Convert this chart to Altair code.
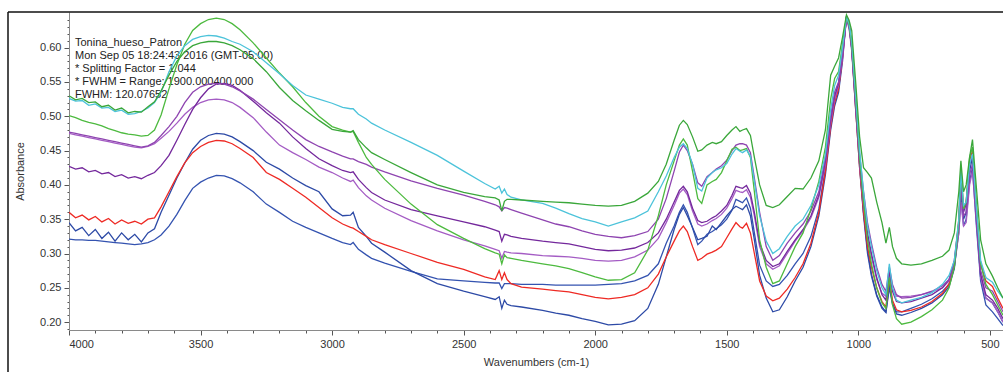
import altair as alt
import pandas as pd

# ---------------- data ----------------
W_R1 = [4000, 3975, 3950, 3925, 3900, 3875, 3850, 3825, 3800, 3775, 3750, 3725, 3700, 3675, 3650]
W_R2 = [3620, 3590, 3560, 3530, 3500, 3470, 3440, 3410, 3380, 3350, 3300, 3250, 3200, 3150]
W_R3 = [3100, 3050, 3000, 2960, 2930, 2920, 2900, 2870, 2850, 2800,
        2700, 2600, 2500, 2420, 2380, 2365, 2355, 2345, 2335, 2320,
        2280, 2200, 2150, 2100, 2050, 2000]
W_R4 = [1950, 1900, 1850, 1800, 1760, 1730, 1700, 1680, 1665, 1650,
        1630, 1610, 1595, 1575, 1555, 1540, 1520, 1500, 1480, 1465,
        1450, 1440, 1425, 1410, 1395, 1375, 1350, 1325, 1300, 1270]
W_R5 = [1240, 1210, 1180, 1150, 1125, 1105, 1090, 1075, 1060, 1045,
        1035, 1025, 1010, 995, 980, 965, 950, 930, 910, 895,
        882, 870, 855, 835, 800, 760, 720, 680, 655, 635,
        618, 610, 600, 590, 577, 566, 552, 535, 515, 490,
        470, 450]
WAVENUMBERS = W_R1 + W_R2 + W_R3 + W_R4 + W_R5

GREEN_1 = ([0.530, 0.524, 0.526, 0.520, 0.521, 0.514, 0.516, 0.509, 0.512, 0.505, 0.507, 0.506, 0.514, 0.521, 0.537]
           + [0.560, 0.580, 0.594, 0.603, 0.607, 0.609, 0.609, 0.607, 0.603, 0.597, 0.584, 0.565, 0.542, 0.523]
           + [0.508, 0.494, 0.481, 0.478, 0.477, 0.479, 0.466, 0.454, 0.447, 0.437,
              0.418, 0.400, 0.389, 0.383, 0.381, 0.378, 0.362, 0.376, 0.379, 0.379,
              0.378, 0.376, 0.375, 0.374, 0.372, 0.370]
           + [0.369, 0.370, 0.376, 0.388, 0.405, 0.430, 0.465, 0.487, 0.494, 0.488,
              0.470, 0.449, 0.451, 0.458, 0.462, 0.460, 0.463, 0.472, 0.480, 0.485,
              0.478, 0.480, 0.482, 0.472, 0.440, 0.400, 0.370, 0.367, 0.371, 0.383]
           + [0.395, 0.394, 0.410, 0.435, 0.480, 0.560, 0.573, 0.585, 0.615, 0.648,
              0.640, 0.625, 0.550, 0.470, 0.425, 0.418, 0.410, 0.375, 0.345, 0.315,
              0.338, 0.310, 0.293, 0.285, 0.283, 0.285, 0.290, 0.296, 0.305, 0.330,
              0.390, 0.435, 0.390, 0.400, 0.440, 0.466, 0.400, 0.320, 0.285, 0.267,
              0.250, 0.235])

CYAN = ([0.526, 0.522, 0.523, 0.516, 0.518, 0.512, 0.513, 0.507, 0.509, 0.503, 0.504, 0.507, 0.512, 0.520, 0.535]
        + [0.565, 0.588, 0.603, 0.612, 0.616, 0.618, 0.617, 0.614, 0.609, 0.605, 0.594, 0.578, 0.562, 0.545]
        + [0.531, 0.525, 0.519, 0.513, 0.511, 0.511, 0.503, 0.496, 0.490, 0.480,
           0.462, 0.443, 0.420, 0.402, 0.394, 0.398, 0.388, 0.394, 0.386, 0.382,
           0.378, 0.373, 0.366, 0.358, 0.351, 0.346]
        + [0.340, 0.346, 0.352, 0.362, 0.390, 0.413, 0.440, 0.455, 0.460, 0.453,
           0.430, 0.395, 0.391, 0.410, 0.418, 0.422, 0.425, 0.431, 0.445, 0.453,
           0.449, 0.447, 0.451, 0.442, 0.405, 0.355, 0.318, 0.300, 0.307, 0.325]
        + [0.340, 0.350, 0.370, 0.400, 0.445, 0.510, 0.545, 0.560, 0.600, 0.645,
           0.635, 0.610, 0.530, 0.450, 0.390, 0.340, 0.310, 0.275, 0.250, 0.240,
           0.285, 0.250, 0.232, 0.228, 0.232, 0.236, 0.243, 0.255, 0.268, 0.290,
           0.350, 0.420, 0.370, 0.375, 0.430, 0.445, 0.370, 0.290, 0.265, 0.258,
           0.245, 0.235])

GREEN_2 = ([0.501, 0.498, 0.494, 0.491, 0.489, 0.486, 0.482, 0.479, 0.476, 0.474, 0.473, 0.471, 0.472, 0.480, 0.502]
           + [0.540, 0.575, 0.605, 0.625, 0.635, 0.641, 0.643, 0.641, 0.635, 0.626, 0.607, 0.585, 0.563, 0.543]
           + [0.520, 0.500, 0.485, 0.480, 0.477, 0.478, 0.462, 0.440, 0.430, 0.408,
              0.372, 0.342, 0.322, 0.307, 0.301, 0.299, 0.285, 0.298, 0.294, 0.293,
              0.290, 0.285, 0.282, 0.278, 0.272, 0.266]
           + [0.261, 0.262, 0.272, 0.305, 0.355, 0.400, 0.435, 0.458, 0.467, 0.458,
              0.420, 0.380, 0.373, 0.400, 0.405, 0.408, 0.418, 0.435, 0.452, 0.455,
              0.450, 0.451, 0.453, 0.440, 0.390, 0.320, 0.280, 0.256, 0.260, 0.285]
           + [0.310, 0.330, 0.365, 0.405, 0.455, 0.525, 0.555, 0.565, 0.605, 0.645,
              0.632, 0.605, 0.525, 0.440, 0.375, 0.320, 0.285, 0.250, 0.228, 0.220,
              0.265, 0.225, 0.205, 0.197, 0.200, 0.208, 0.218, 0.232, 0.250, 0.280,
              0.345, 0.425, 0.365, 0.375, 0.440, 0.455, 0.375, 0.285, 0.255, 0.240,
              0.225, 0.210])

PURPLE_1 = ([0.477, 0.475, 0.473, 0.471, 0.469, 0.467, 0.465, 0.463, 0.461, 0.459, 0.457, 0.455, 0.457, 0.462, 0.472]
            + [0.485, 0.500, 0.520, 0.535, 0.543, 0.547, 0.548, 0.547, 0.543, 0.537, 0.525, 0.510, 0.495, 0.480]
            + [0.466, 0.456, 0.448, 0.442, 0.438, 0.438, 0.434, 0.430, 0.426, 0.419,
               0.406, 0.395, 0.385, 0.376, 0.371, 0.368, 0.362, 0.367, 0.366, 0.364,
               0.359, 0.349, 0.343, 0.339, 0.333, 0.328]
            + [0.325, 0.323, 0.326, 0.332, 0.350, 0.380, 0.420, 0.448, 0.458, 0.450,
               0.430, 0.403, 0.398, 0.412, 0.418, 0.423, 0.428, 0.436, 0.450, 0.458,
               0.460, 0.460, 0.458, 0.447, 0.410, 0.360, 0.310, 0.290, 0.297, 0.315]
            + [0.330, 0.343, 0.362, 0.390, 0.440, 0.500, 0.535, 0.550, 0.590, 0.643,
               0.630, 0.600, 0.520, 0.445, 0.390, 0.345, 0.315, 0.280, 0.255, 0.245,
               0.280, 0.255, 0.240, 0.235, 0.236, 0.240, 0.245, 0.253, 0.262, 0.285,
               0.340, 0.400, 0.355, 0.360, 0.415, 0.430, 0.360, 0.275, 0.250, 0.245,
               0.230, 0.215])

PURPLE_DARK = ([0.427, 0.423, 0.425, 0.419, 0.421, 0.416, 0.418, 0.412, 0.415, 0.410, 0.412, 0.409, 0.414, 0.418, 0.428]
               + [0.443, 0.465, 0.488, 0.510, 0.527, 0.540, 0.547, 0.548, 0.545, 0.538, 0.522, 0.505, 0.490, 0.470]
               + [0.453, 0.438, 0.428, 0.421, 0.418, 0.419, 0.408, 0.396, 0.389, 0.378,
                  0.364, 0.355, 0.346, 0.339, 0.334, 0.332, 0.318, 0.328, 0.327, 0.325,
                  0.322, 0.318, 0.316, 0.314, 0.310, 0.306]
               + [0.304, 0.305, 0.308, 0.316, 0.330, 0.350, 0.375, 0.392, 0.398, 0.390,
                  0.366, 0.348, 0.345, 0.347, 0.352, 0.355, 0.362, 0.370, 0.385, 0.398,
                  0.396, 0.395, 0.399, 0.388, 0.360, 0.315, 0.290, 0.281, 0.285, 0.303]
               + [0.320, 0.335, 0.355, 0.385, 0.435, 0.495, 0.530, 0.548, 0.590, 0.644,
                  0.632, 0.600, 0.515, 0.435, 0.375, 0.330, 0.300, 0.265, 0.240, 0.232,
                  0.275, 0.245, 0.230, 0.228, 0.230, 0.235, 0.240, 0.250, 0.262, 0.290,
                  0.345, 0.410, 0.360, 0.372, 0.430, 0.440, 0.360, 0.270, 0.240, 0.232,
                  0.220, 0.205])

PURPLE_2 = ([0.475, 0.473, 0.471, 0.469, 0.467, 0.465, 0.463, 0.461, 0.459, 0.457, 0.455, 0.454, 0.456, 0.460, 0.468]
            + [0.478, 0.490, 0.503, 0.513, 0.520, 0.524, 0.525, 0.524, 0.520, 0.513, 0.498, 0.477, 0.458, 0.447]
            + [0.437, 0.426, 0.418, 0.410, 0.405, 0.407, 0.396, 0.384, 0.378, 0.366,
               0.348, 0.333, 0.320, 0.311, 0.306, 0.304, 0.293, 0.303, 0.302, 0.301,
               0.300, 0.297, 0.296, 0.295, 0.293, 0.290]
            + [0.289, 0.290, 0.295, 0.305, 0.322, 0.345, 0.370, 0.388, 0.394, 0.386,
               0.362, 0.343, 0.340, 0.343, 0.348, 0.351, 0.357, 0.366, 0.380, 0.392,
               0.390, 0.389, 0.393, 0.382, 0.355, 0.310, 0.285, 0.277, 0.282, 0.300]
            + [0.318, 0.333, 0.352, 0.382, 0.430, 0.490, 0.525, 0.545, 0.585, 0.642,
               0.628, 0.595, 0.510, 0.430, 0.370, 0.325, 0.295, 0.262, 0.242, 0.238,
               0.270, 0.248, 0.238, 0.237, 0.238, 0.240, 0.244, 0.250, 0.260, 0.285,
               0.330, 0.375, 0.340, 0.345, 0.400, 0.420, 0.350, 0.265, 0.235, 0.228,
               0.215, 0.200])

RED = ([0.360, 0.352, 0.356, 0.349, 0.354, 0.346, 0.351, 0.343, 0.349, 0.344, 0.347, 0.343, 0.350, 0.352, 0.368]
       + [0.390, 0.412, 0.432, 0.447, 0.456, 0.462, 0.465, 0.464, 0.460, 0.453, 0.440, 0.418, 0.408, 0.395]
       + [0.382, 0.367, 0.352, 0.343, 0.338, 0.337, 0.332, 0.325, 0.320, 0.313,
          0.300, 0.287, 0.277, 0.266, 0.262, 0.275, 0.262, 0.272, 0.262, 0.256,
          0.251, 0.248, 0.246, 0.244, 0.240, 0.236]
       + [0.234, 0.236, 0.240, 0.250, 0.270, 0.295, 0.318, 0.333, 0.340, 0.332,
          0.310, 0.290, 0.293, 0.299, 0.302, 0.305, 0.310, 0.323, 0.336, 0.345,
          0.339, 0.337, 0.344, 0.330, 0.300, 0.260, 0.238, 0.231, 0.235, 0.248]
       + [0.265, 0.285, 0.315, 0.360, 0.420, 0.485, 0.520, 0.540, 0.585, 0.645,
          0.635, 0.600, 0.510, 0.425, 0.360, 0.310, 0.280, 0.250, 0.230, 0.222,
          0.262, 0.232, 0.218, 0.215, 0.217, 0.222, 0.230, 0.242, 0.256, 0.285,
          0.350, 0.420, 0.365, 0.375, 0.435, 0.450, 0.370, 0.285, 0.260, 0.252,
          0.235, 0.220])

BLUE_1 = ([0.345, 0.333, 0.338, 0.326, 0.335, 0.322, 0.331, 0.318, 0.330, 0.320, 0.328, 0.317, 0.330, 0.336, 0.360]
          + [0.385, 0.410, 0.432, 0.452, 0.465, 0.472, 0.475, 0.474, 0.470, 0.463, 0.450, 0.433, 0.423, 0.410]
          + [0.399, 0.390, 0.365, 0.355, 0.356, 0.360, 0.338, 0.325, 0.315, 0.302,
             0.275, 0.256, 0.245, 0.237, 0.233, 0.237, 0.220, 0.232, 0.226, 0.224,
             0.222, 0.217, 0.213, 0.210, 0.205, 0.201]
          + [0.196, 0.197, 0.202, 0.220, 0.255, 0.295, 0.335, 0.357, 0.367, 0.355,
             0.338, 0.320, 0.322, 0.325, 0.340, 0.335, 0.345, 0.355, 0.364, 0.369,
             0.366, 0.364, 0.371, 0.355, 0.320, 0.268, 0.235, 0.215, 0.218, 0.237]
          + [0.260, 0.280, 0.310, 0.355, 0.415, 0.480, 0.515, 0.535, 0.580, 0.646,
             0.636, 0.602, 0.520, 0.430, 0.360, 0.305, 0.270, 0.240, 0.222, 0.215,
             0.255, 0.228, 0.212, 0.210, 0.214, 0.220, 0.228, 0.240, 0.252, 0.278,
             0.340, 0.400, 0.350, 0.360, 0.420, 0.440, 0.355, 0.265, 0.235, 0.228,
             0.215, 0.200])

BLUE_2 = ([0.321, 0.320, 0.320, 0.319, 0.319, 0.318, 0.317, 0.316, 0.315, 0.314, 0.313, 0.314, 0.316, 0.320, 0.327]
          + [0.340, 0.357, 0.377, 0.395, 0.404, 0.410, 0.414, 0.413, 0.409, 0.403, 0.390, 0.372, 0.360, 0.347]
          + [0.338, 0.330, 0.322, 0.316, 0.313, 0.316, 0.306, 0.298, 0.293, 0.286,
             0.274, 0.263, 0.260, 0.258, 0.257, 0.257, 0.249, 0.256, 0.256, 0.256,
             0.255, 0.255, 0.254, 0.254, 0.254, 0.254]
          + [0.255, 0.256, 0.260, 0.268, 0.285, 0.315, 0.340, 0.360, 0.371, 0.360,
             0.337, 0.313, 0.318, 0.328, 0.332, 0.336, 0.342, 0.350, 0.363, 0.379,
             0.376, 0.374, 0.381, 0.366, 0.330, 0.283, 0.260, 0.252, 0.255, 0.268]
          + [0.285, 0.300, 0.325, 0.365, 0.425, 0.490, 0.525, 0.543, 0.587, 0.645,
             0.634, 0.598, 0.512, 0.425, 0.355, 0.300, 0.267, 0.238, 0.220, 0.214,
             0.250, 0.226, 0.215, 0.215, 0.220, 0.226, 0.234, 0.245, 0.255, 0.280,
             0.330, 0.385, 0.340, 0.350, 0.405, 0.425, 0.345, 0.260, 0.225, 0.215,
             0.205, 0.195])

SERIES_NAMES = ["Blue 2", "Blue 1", "Red", "Purple 2", "Purple dark", "Purple 1", "Green 2", "Cyan", "Green 1"]
SERIES_VALUES = [BLUE_2, BLUE_1, RED, PURPLE_2, PURPLE_DARK, PURPLE_1, GREEN_2, CYAN, GREEN_1]
SERIES_COLORS = ["#3453b0", "#2d4aa6", "#ee2a24", "#a45cc4", "#74289c", "#8e44b0", "#4dba3f", "#4cc3da", "#3aa73a"]

ANNOTATION = "\n".join([
    "Tonina_hueso_Patron",
    "Mon Sep 05 18:24:43 2016 (GMT-05:00)",
    "* Splitting Factor = 1.044",
    "* FWHM = Range: 1900.000400.000",
    "FWHM: 120.07652",
])

Y_TICKS = [round(0.19 + 0.01 * i, 2) for i in range(46)]   # 0.19 ... 0.64
X_TICKS = list(range(500, 4001, 100))

# ---------------- build table ----------------
rows = []
for name, vals in zip(SERIES_NAMES, SERIES_VALUES):
    if len(vals) != len(WAVENUMBERS):
        raise ValueError(f"{name}: {len(vals)} values vs {len(WAVENUMBERS)} wavenumbers")
    for w, a in zip(WAVENUMBERS, vals):
        rows.append({"series": name, "w": w, "a": a})
df = pd.DataFrame(rows)

FONT = "Liberation Sans"

x_enc = alt.X(
    "w:Q",
    scale=alt.Scale(domain=[450, 4000], reverse=True, nice=False, zero=False),
    axis=alt.Axis(
        values=X_TICKS,
        labelExpr="datum.value % 500 === 0 ? format(datum.value, 'd') : ''",
        tickSize={"condition": {"test": "datum.value % 500 === 0", "value": 5}, "value": 3},
        title="Wavenumbers (cm-1)",
        grid=False,
        labelPadding=3,
        titlePadding=7,
    ),
)
y_enc = alt.Y(
    "a:Q",
    scale=alt.Scale(domain=[0.1885, 0.652], nice=False, zero=False),
    axis=alt.Axis(
        values=Y_TICKS,
        labelExpr="round(datum.value * 100) % 5 === 0 ? format(datum.value, '.2f') : ''",
        tickSize={"condition": {"test": "round(datum.value * 100) % 5 === 0", "value": 5}, "value": 2},
        title="Absorbance",
        grid=False,
        labelPadding=3,
        titlePadding=14,
    ),
)

lines = alt.Chart(df).mark_line(strokeWidth=1.3, clip=True).encode(
    x=x_enc,
    y=y_enc,
    color=alt.Color("series:N", scale=alt.Scale(domain=SERIES_NAMES, range=SERIES_COLORS), legend=None),
    detail="series:N",
)

text = alt.Chart(pd.DataFrame({"t": [ANNOTATION]})).mark_text(
    align="left", baseline="top", font=FONT, fontSize=11, lineHeight=13, lineBreak="\n", color="#222222"
).encode(x=alt.value(6), y=alt.value(25), text="t:N")

frame_df = pd.DataFrame({"k": [1]})
top_rule = alt.Chart(frame_df).mark_rule(color="#111111", strokeWidth=1.5).encode(
    x=alt.value(-61), x2=alt.value(934), y=alt.value(0)
)
left_rule = alt.Chart(frame_df).mark_rule(color="#111111", strokeWidth=1.5).encode(
    x=alt.value(-61), y=alt.value(0), y2=alt.value(370)
)

chart = alt.layer(text, lines, top_rule, left_rule).properties(
    width=934,
    height=318,
    autosize=alt.AutoSizeParams(type="none"),
    padding={"left": 69, "top": 12, "right": 0, "bottom": 42},
    background="white",
).configure_view(stroke="transparent").configure_axis(
    labelFont=FONT,
    titleFont=FONT,
    labelFontSize=11,
    titleFontSize=11,
    titleFontWeight="normal",
    labelColor="#333333",
    titleColor="#333333",
    domainColor="#8a8a8a",
    tickColor="#555555",
)

chart.save("out.html", embed_options={"renderer": "svg", "actions": False})
